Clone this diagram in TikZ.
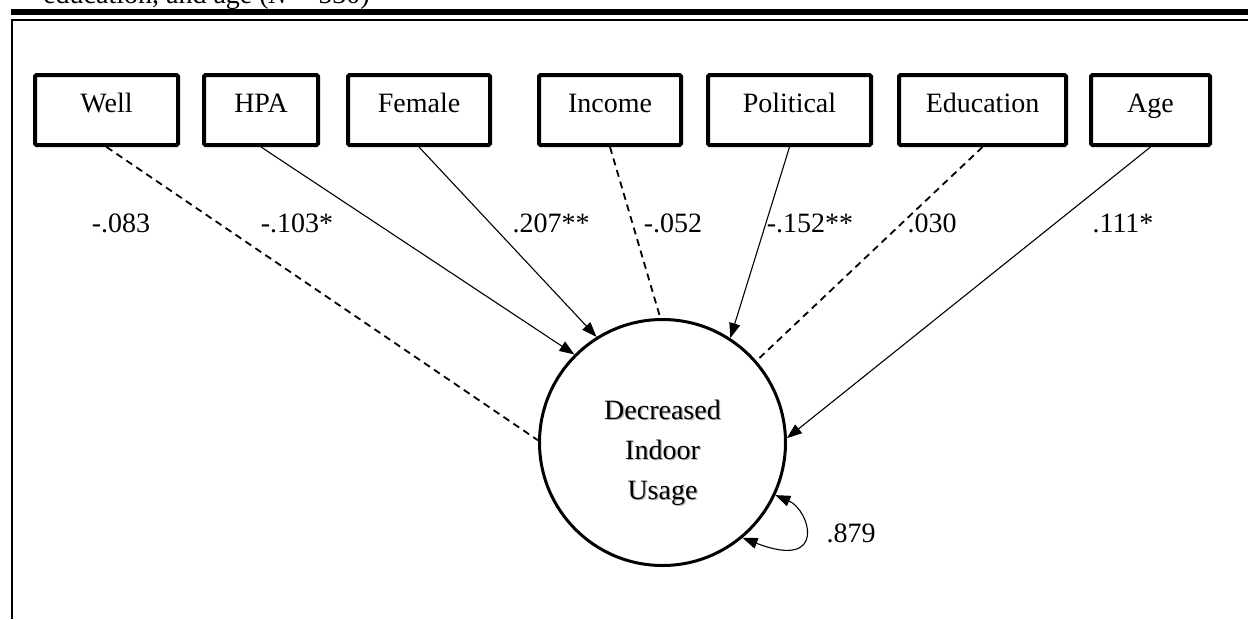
\documentclass[tikz,border=0pt]{standalone}
\usepackage{fontspec}
\setmainfont{Liberation Serif}
\usetikzlibrary{arrows.meta}
\newcommand\shadowed[1]{\leavevmode\rlap{\kern1.3pt\raisebox{-1.3pt}{\textcolor{black!30}{#1}}}#1}

\begin{document}
\begin{tikzpicture}[x=1pt, y=-1pt, font=\fontsize{28}{40}\selectfont,
    var/.style={draw, line width=4pt, rounded corners=1.5pt, minimum height=70pt, inner sep=0pt, text height=20pt, text depth=16pt},
    coef/.style={inner sep=0pt, anchor=base},
    sig/.style={line width=1.1pt, -{Triangle[length=15pt, width=11pt]}},
    nsig/.style={line width=1.8pt, dash pattern=on 7pt off 5pt},
    >=Triangle]
    \useasboundingbox (0,0) rectangle (1248,619);
    \fill (11,9) rectangle (1248,15);
    \draw[line width=2.5pt] (1248,20) -- (12,20) -- (12,619);
    \node[anchor=base east, inner sep=0pt] (title) at (370,3) {education, and age (\textit{N} = 530)};
    \node[var, minimum width=143pt] (well) at (106.5,110) {Well};
    \node[var, minimum width=114pt] (hpa) at (261,110) {HPA};
    \node[var, minimum width=142pt] (female) at (419,110) {Female};
    \node[var, minimum width=142pt] (income) at (610,110) {Income};
    \node[var, minimum width=163pt] (political) at (789.5,110) {Political};
    \node[var, minimum width=167pt] (education) at (982.5,110) {Education};
    \node[var, minimum width=119pt] (age) at (1150.5,110) {Age};
    \node[circle, draw, line width=3pt, minimum size=246pt, inner sep=0pt] (dv) at (662.5,442.5) {};
    \node[align=center, inner sep=0pt] (dvtext) at (662.5,453) {\shadowed{Decreased}\\\shadowed{Indoor}\\\shadowed{Usage}};
    \node[coef] (c1) at (121,232) {-.083};
    \node[coef] (c2) at (297,232) {-.103*};
    \node[coef] (c3) at (551,232) {.207**};
    \node[coef] (c4) at (673,232) {-.052};
    \node[coef] (c5) at (810,232) {-.152**};
    \node[coef] (c6) at (932,232) {.030};
    \node[coef] (c7) at (1123,232) {.111*};
    \node[coef] (c8) at (851,542) {.879};
    \draw[nsig] (well.south) -- (dv.179);
    \draw[sig] (hpa.south) -- (dv.135);
    \draw[sig] (female.south) -- (dv.122);
    \draw[nsig] (income.south) -- (dv.91);
    \draw[sig] (political.south) -- (dv.57);
    \draw[nsig] (education.south) -- (dv.41);
    \draw[sig] (age.south) -- (dv.2);
    \draw[line width=1.1pt, {Triangle[length=15pt, width=11pt]}-{Triangle[length=15pt, width=11pt]}] (dv.-25) .. controls (810,510) and (828,571) .. (dv.-50);
\end{tikzpicture}
\end{document}
